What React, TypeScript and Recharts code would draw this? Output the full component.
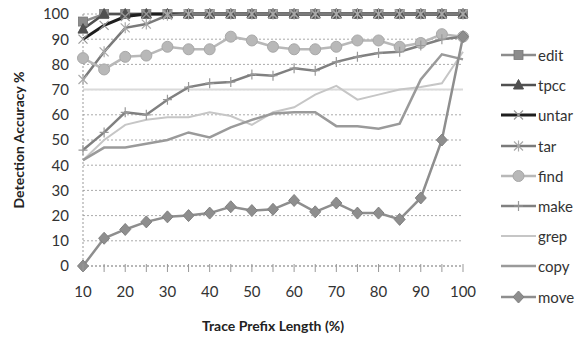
import React from 'react';
import { LineChart, Line, XAxis, YAxis, CartesianGrid, ReferenceLine } from 'recharts';

// trace prefix length (%) on the x axis
const PREFIX = [10, 15, 20, 25, 30, 35, 40, 45, 50, 55, 60, 65, 70, 75, 80, 85, 90, 95, 100];
const Y_TICKS = [0, 10, 20, 30, 40, 50, 60, 70, 80, 90, 100];

const EDIT = [97, 100, 100, 100, 100, 100, 100, 100, 100, 100, 100, 100, 100, 100, 100, 100, 100, 100, 100];
const TPCC = [94, 100, 100, 100, 100, 100, 100, 100, 100, 100, 100, 100, 100, 100, 100, 100, 100, 100, 100];
const UNTAR = [90, 95.5, 99, 100, 100, 100, 100, 100, 100, 100, 100, 100, 100, 100, 100, 100, 100, 100, 100];
const TAR = [74, 85, 94.5, 96, 99.5, 100, 100, 100, 100, 100, 100, 100, 100, 100, 100, 100, 100, 100, 100];
const FIND = [82.5, 78, 83, 83.5, 87, 86, 86, 91, 89.5, 87, 86, 86, 87, 89.5, 89.5, 87, 88.5, 92, 91];
const MAKE = [46, 53, 61, 60, 66, 71, 72.5, 73, 76, 75.5, 78.5, 77.5, 81, 83, 84.5, 85, 87.5, 90, 91];
const GREP = [42, 50, 56, 58, 59, 59, 61, 59.5, 56, 61, 63, 68, 71.5, 66, 68, 70, 71, 72.5, 85];
const COPY = [42, 47, 47, 48.5, 50, 53, 51, 55, 58, 60.5, 61, 61, 55.5, 55.5, 54.5, 56.5, 74, 84, 82];
const MOVE = [0, 11, 14.5, 17.5, 19.5, 20, 21, 23.5, 22, 22.5, 26, 21.5, 25, 21, 21, 18.5, 27, 50, 91];

type Shape = 'square' | 'triangle' | 'x' | 'star' | 'circle' | 'plus' | 'diamond' | 'none';

const SERIES: { key: string; values: number[]; color: string; shape: Shape; width: number }[] = [
  { key: 'edit', values: EDIT, color: '#8c8c8c', shape: 'square', width: 2.5 },
  { key: 'tpcc', values: TPCC, color: '#505050', shape: 'triangle', width: 2.5 },
  { key: 'untar', values: UNTAR, color: '#1e1e1e', shape: 'x', width: 3 },
  { key: 'tar', values: TAR, color: '#7a7a7a', shape: 'star', width: 2.5 },
  { key: 'find', values: FIND, color: '#b8b8b8', shape: 'circle', width: 2.5 },
  { key: 'make', values: MAKE, color: '#808080', shape: 'plus', width: 2.5 },
  { key: 'grep', values: GREP, color: '#c6c6c6', shape: 'none', width: 2 },
  { key: 'copy', values: COPY, color: '#9a9a9a', shape: 'none', width: 2.5 },
  { key: 'move', values: MOVE, color: '#8e8e8e', shape: 'diamond', width: 2.5 },
];

const data = PREFIX.map((x, i) => {
  const row: Record<string, number> = { x };
  SERIES.forEach(s => { row[s.key] = s.values[i]; });
  return row;
});

const FONT = 'Lato, "Open Sans", sans-serif';

const Marker = ({ shape, cx, cy, color }: { shape: Shape; cx: number; cy: number; color: string }) => {
  switch (shape) {
    case 'square':
      return <rect x={cx - 4.5} y={cy - 4.5} width={9} height={9} fill={color} stroke="#777" strokeWidth={0.8} />;
    case 'triangle':
      return <polygon points={`${cx},${cy - 5.5} ${cx + 5},${cy + 4} ${cx - 5},${cy + 4}`} fill={color} stroke={color} />;
    case 'x':
      return <path d={`M${cx - 4.5},${cy - 4.5}L${cx + 4.5},${cy + 4.5}M${cx - 4.5},${cy + 4.5}L${cx + 4.5},${cy - 4.5}`} stroke="#999" strokeWidth={1.2} />;
    case 'star':
      return <path d={`M${cx - 4.5},${cy - 4.5}L${cx + 4.5},${cy + 4.5}M${cx - 4.5},${cy + 4.5}L${cx + 4.5},${cy - 4.5}M${cx},${cy - 5.5}L${cx},${cy + 5.5}`} stroke="#aaa" strokeWidth={1.2} />;
    case 'circle':
      return <circle cx={cx} cy={cy} r={5.5} fill={color} stroke="#a8a8a8" />;
    case 'plus':
      return <path d={`M${cx - 4.5},${cy}L${cx + 4.5},${cy}M${cx},${cy - 5}L${cx},${cy + 5}`} stroke="#999" strokeWidth={1.2} />;
    case 'diamond':
      return <polygon points={`${cx},${cy - 6} ${cx + 5.5},${cy} ${cx},${cy + 6} ${cx - 5.5},${cy}`} fill={color} stroke="#808080" />;
    default:
      return null;
  }
};

const makeDot = (shape: Shape, color: string) => (props: any) => {
  const { cx, cy, index } = props;
  if (shape === 'none' || cx == null || cy == null) return <g key={`d-${index}`} />;
  return <g key={`d-${index}`}><Marker shape={shape} cx={cx} cy={cy} color={color} /></g>;
};

const XTick = (props: any) => {
  const { x, y, payload } = props;
  const v = payload.value as number;
  return (
    <g>
      <line x1={x} x2={x} y1={y - 4} y2={y + 4} stroke="#999" strokeWidth={1} />
      {v % 10 === 0 && (
        <text x={x} y={y + 29} textAnchor="middle" fontSize={15} fill="#333" fontFamily={FONT}>{v}</text>
      )}
    </g>
  );
};

const LegendIcon = ({ shape, color, width }: { shape: Shape; color: string; width: number }) => (
  <svg width={35} height={14} style={{ display: 'block' }}>
    <line x1={0} x2={35} y1={7} y2={7} stroke={color} strokeWidth={width} />
    <Marker shape={shape} cx={17.5} cy={7} color={color} />
  </svg>
);

const App: React.FC = () => {
  return (
    <div style={{ position: 'fixed', left: 0, top: 0, width: 585, height: 338, background: '#fff', fontFamily: FONT }}>
      <LineChart width={585} height={338} data={data} margin={{ top: 14, right: 122, left: 0, bottom: 32 }}>
        <CartesianGrid vertical={false} stroke="#aaa" strokeDasharray="2 2" />
        <ReferenceLine y={70} stroke="#dadada" strokeWidth={2} />
        <XAxis
          type="number"
          dataKey="x"
          domain={[10, 100]}
          ticks={PREFIX}
          interval={0}
          height={40}
          tickLine={false}
          tickSize={0}
          tick={<XTick />}
          axisLine={{ stroke: '#999', strokeDasharray: '2 2' }}
        />
        <YAxis
          domain={[0, 100]}
          ticks={Y_TICKS}
          interval={0}
          width={83}
          tickLine={false}
          tickSize={0}
          tickMargin={14}
          axisLine={{ stroke: '#999', strokeDasharray: '2 2' }}
          tick={{ fontSize: 15, fill: '#333', fontFamily: FONT }}
        />
        {SERIES.map(s => (
          <Line
            key={s.key}
            dataKey={s.key}
            name={s.key}
            stroke={s.color}
            strokeWidth={s.width}
            dot={makeDot(s.shape, s.color)}
            activeDot={false}
            isAnimationActive={false}
          />
        ))}
      </LineChart>

      <div style={{ position: 'absolute', left: 0, top: 140, width: 36, height: 0 }}>
        <div style={{ position: 'absolute', left: 18, top: 0, transform: 'translate(-50%, -50%) rotate(-90deg)', whiteSpace: 'nowrap', fontWeight: 700, fontSize: 14, color: '#222' }}>
          Detection Accuracy %
        </div>
      </div>
      <div style={{ position: 'absolute', left: 273, top: 325, transform: 'translate(-50%, -50%)', whiteSpace: 'nowrap', fontWeight: 700, fontSize: 14, color: '#222' }}>
        Trace Prefix Length (%)
      </div>

      <div style={{ position: 'absolute', left: 501, top: 40 }}>
        {SERIES.map(s => (
          <div key={s.key} style={{ display: 'flex', alignItems: 'center', height: 30.2 }}>
            <LegendIcon shape={s.shape} color={s.color} width={s.width} />
            <span style={{ fontSize: 15, color: '#333', marginLeft: 2 }}>{s.key}</span>
          </div>
        ))}
      </div>
    </div>
  );
};

export default App;
